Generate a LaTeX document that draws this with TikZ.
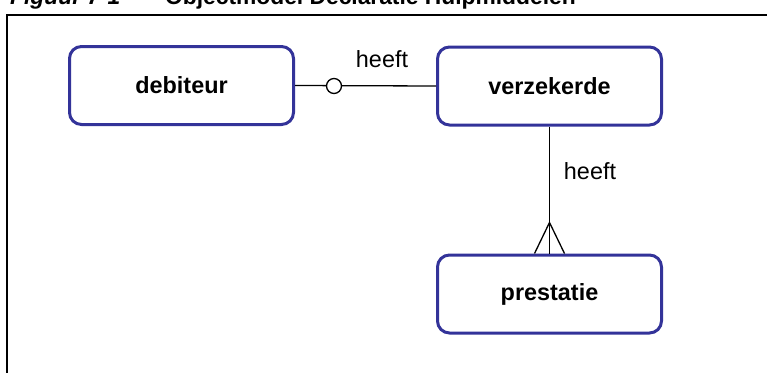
\documentclass[tikz,border=0pt]{standalone}
\usepackage{fontspec}
\setmainfont{Liberation Sans}
\definecolor{boxblue}{HTML}{333399}
\begin{document}
\begin{tikzpicture}[x=1pt,y=-1pt,
  entity/.style={draw=boxblue, line width=3pt, rounded corners=12pt, fill=white,
    minimum width=224pt, minimum height=78pt, inner sep=0pt,
    font=\fontsize{23.4}{28}\selectfont\bfseries},
  lbl/.style={font=\fontsize{23.4}{28}\selectfont, anchor=base, inner sep=0pt},
  ttl/.style={font=\fontsize{22.8}{27}\selectfont\bfseries, anchor=base west, inner sep=0pt},
  conn/.style={line width=1.3pt, black}]
\useasboundingbox (0,0) rectangle (767,372);
% frame
\draw[line width=2pt] (6.5,400) -- (6.5,15) -- (800,15);
% title (partly cut off at the top)
\node[ttl] (t1) at (10,5) {\itshape Figuur 7-1};
\node[ttl] (t2) at (165,5) {Objectmodel Declaratie Hulpmiddelen};
% entities
\node[entity] (deb) at (181.5,85.5) {debiteur};
\node[entity] (verz) at (549.5,86) {verzekerde};
\node[entity] (prest) at (549.5,294) {prestatie};
% connectors
\draw[conn] (deb.east) -- (verz.west);
\node[draw, conn, fill=white, circle, minimum size=15pt, inner sep=0pt] (circ) at (334,86) {};
\node[lbl] (h1) at (382,67) {heeft};
\draw[conn] (verz.south) -- (prest.north);
\coordinate (apex) at ([yshift=31pt]prest.north);
\draw[conn] ([xshift=-15pt]prest.north) -- (apex) -- ([xshift=15pt]prest.north);
\node[lbl] (h2) at (590,179) {heeft};
\end{tikzpicture}
\end{document}
